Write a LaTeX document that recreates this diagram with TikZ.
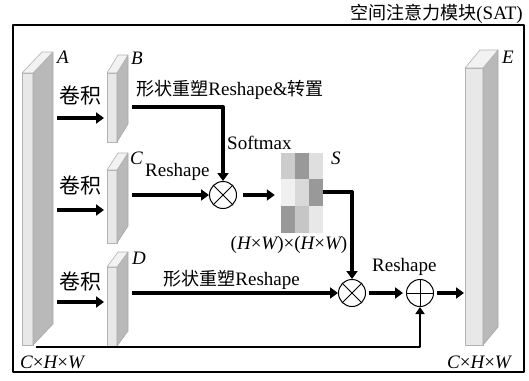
\documentclass[tikz,border=0pt]{standalone}
\usepackage{fontspec}
\setmainfont{Liberation Serif}
\newfontfamily\cjk[Scale=0.95]{Noto Sans CJK SC}
\usetikzlibrary{arrows.meta,calc}

% slab: x, top, bottom, front width, depth dx, depth dy
\newcommand{\slab}[6]{%
  \filldraw[front] (#1,#2) rectangle ({#1+#4},#3);
  \filldraw[side] ({#1+#4},#2) -- ++(#5,-#6) -- ({#1+#4+#5},{#3-#6}) -- ({#1+#4},#3) -- cycle;
  \filldraw[topface] (#1,#2) -- ++(#5,-#6) -- ++(#4,0) -- ({#1+#4},#2) -- cycle;
}

\begin{document}
\begin{tikzpicture}[x=1pt, y=-1pt, line join=round,
  front/.style={fill=gray!18, draw=gray!60, line width=0.6pt},
  side/.style={fill=gray!55, draw=gray!70, line width=0.6pt},
  topface/.style={fill=gray!10, draw=gray!60, line width=0.6pt},
  arr/.style={line width=4pt, -{Triangle[length=8pt,width=11pt]}},
  thin arr/.style={line width=2.6pt, -{Triangle[length=7pt,width=9pt]}},
  op/.style={circle, draw, line width=1pt, minimum size=27pt, inner sep=0pt},
  lab/.style={font=\fontsize{19}{20}\selectfont, inner sep=0pt},
  conv/.style={font=\fontsize{22}{22}\selectfont\cjk, inner sep=0pt},
  var/.style={font=\fontsize{19}{20}\selectfont\itshape, inner sep=0pt, anchor=west}
]
  \useasboundingbox (0,0) rectangle (529,380);

  \node[lab, anchor=east] (title) at (523,14) {{\cjk 空间注意力模块}(SAT)};
  \draw[line width=1.2pt] (13,25) rectangle (524,372);

  % feature blocks
  \slab{22}{73}{345}{11}{20}{21}
  \slab{107}{73}{142}{10}{11}{18}
  \slab{107}{170}{243}{10}{11}{17}
  \slab{107}{267}{346}{10}{11}{15}
  \slab{465}{68}{345}{18}{15}{18}

  \node[var] (A) at (57,57) {A};
  \node[var] (B) at (131,58) {B};
  \node[var] (C) at (130,158) {C};
  \node[var] (D) at (132,258) {D};
  \node[var] (E) at (502,57) {E};

  % conv arrows
  \coordinate (a1) at (57,118);  \coordinate (b1) at (104,118);
  \coordinate (a2) at (57,210);  \coordinate (c1) at (104,210);
  \coordinate (a3) at (57,302);  \coordinate (d1) at (104,302);
  \draw[arr] (a1) -- (b1);
  \draw[arr] (a2) -- (c1);
  \draw[arr] (a3) -- (d1);
  \node[conv] (k1) at (80,96) {卷积};
  \node[conv] (k2) at (80,186) {卷积};
  \node[conv] (k3) at (80,282) {卷积};

  % operators
  \node[op] (o1) at (223,195) {};
  \draw[line width=1pt] (o1.north west) -- (o1.south east) (o1.north east) -- (o1.south west);
  \node[op] (o2) at (352,293) {};
  \draw[line width=1pt] (o2.north west) -- (o2.south east) (o2.north east) -- (o2.south west);
  \node[op] (o3) at (420,293) {};
  \draw[line width=1pt] (o3.north) -- (o3.south) (o3.west) -- (o3.east);

  % attention map S
  \node[minimum width=42pt, minimum height=80pt, inner sep=0pt] (S) at (302,193) {};
  \foreach \c [count=\i from 0] in {40,80,25,12,30,80,80,45,18}{
    \pgfmathtruncatemacro{\col}{mod(\i,3)}
    \pgfmathtruncatemacro{\row}{div(\i,3)}
    \fill[gray!\c] ($(S.north west)+(14*\col,26.67*\row)$) rectangle ++(14,26.67);
  }
  \node[var] (Slab) at (331,158) {S};
  \node[lab] (dim) at (289,245) {({\itshape H}×{\itshape W})×({\itshape H}×{\itshape W})};

  % connections
  \coordinate (bo) at (132,107);
  \coordinate (co) at (132,195);
  \coordinate (do) at (132,293);
  \coordinate (eo) at (464,293);
  \coordinate (sk) at (36,347);
  \draw[arr] (bo) -| (o1);
  \draw[arr] (co) -- (o1);
  \draw[arr, shorten <=6pt, shorten >=6pt] (o1) -- (S.west |- o1);
  \draw[arr] (S.east |- 0,192) -| (o2);
  \draw[arr] (do) -- (o2);
  \draw[arr, shorten <=3pt, shorten >=3pt] (o2) -- (o3);
  \draw[arr, shorten <=3pt] (o3) -- (eo);
  \draw[thin arr] (sk) -| (o3);

  \node[lab, anchor=west] (t1) at (136,90) {{\cjk 形状重塑}Reshape\&{\cjk 转置}};
  \node[lab, anchor=west] (t2) at (227,143) {Softmax};
  \node[lab, anchor=west] (t3) at (145,172) {Reshape};
  \node[lab, anchor=west] (t4) at (163,280) {{\cjk 形状重塑}Reshape};
  \node[lab, anchor=west] (t5) at (372,267) {Reshape};

  \node[lab, anchor=west] (n1) at (20,362) {{\itshape C}×{\itshape H}×{\itshape W}};
  \node[lab, anchor=east] (n2) at (511,362) {{\itshape C}×{\itshape H}×{\itshape W}};
\end{tikzpicture}
\end{document}
